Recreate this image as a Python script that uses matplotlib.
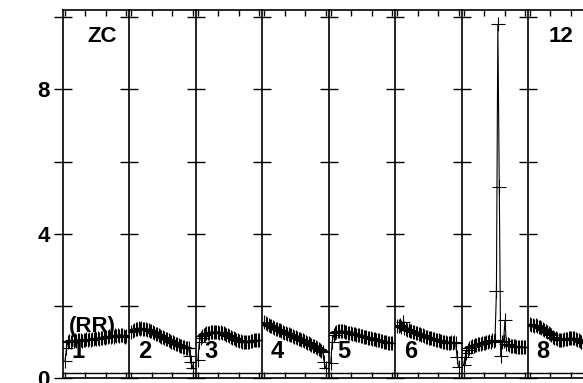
import numpy as np
import matplotlib
matplotlib.use("Agg")
import matplotlib.pyplot as plt

plt.rcParams['font.family'] = ['Liberation Sans', 'DejaVu Sans']

# ---- data ----
panel_labels = ['1', '2', '3', '4', '5', '6', '', '8']
p1 = [0.47, 0.83, 1.0, 1.03, 1.01, 1.04, 1.02, 1.05, 1.03, 1.06, 1.04, 1.05, 1.03, 1.06,
      1.05, 1.07, 1.05, 1.08, 1.06, 1.09, 1.07, 1.1, 1.08, 1.11, 1.09, 1.12, 1.1, 1.13,
      1.12, 1.15, 1.13, 1.16, 1.14, 1.17, 1.15, 1.18, 1.16, 1.19, 1.17, 1.2, 1.18, 1.17,
      1.15, 1.16]
p2 = [1.27, 1.3, 1.33, 1.35, 1.36, 1.38, 1.37, 1.38, 1.36, 1.37, 1.35, 1.34, 1.32, 1.31,
      1.29, 1.27, 1.25, 1.23, 1.21, 1.19, 1.17, 1.15, 1.13, 1.11, 1.09, 1.07, 1.05, 1.03,
      1.01, 0.99, 0.97, 0.95, 0.93, 0.92, 0.9, 0.88, 0.87, 0.85, 0.84, 0.83, 0.82, 0.62,
      0.44, 0.28]
p3 = [0.5, 1.0, 1.12, 1.17, 1.2, 1.22, 1.24, 1.25, 1.26, 1.27, 1.28, 1.27, 1.28, 1.27,
      1.28, 1.26, 1.27, 1.25, 1.24, 1.22, 1.2, 1.18, 1.16, 1.14, 1.12, 1.1, 1.08, 1.06,
      1.05, 1.03, 1.02, 1.01, 1.0, 0.99, 1.0, 1.0, 1.01, 1.02, 1.03, 1.04, 1.04, 1.05,
      1.04, 1.04]
p4 = [1.55, 1.52, 1.5, 1.47, 1.45, 1.43, 1.41, 1.39, 1.37, 1.35, 1.33, 1.32, 1.3, 1.28,
      1.26, 1.25, 1.23, 1.21, 1.2, 1.18, 1.16, 1.14, 1.13, 1.11, 1.09, 1.07, 1.06, 1.04,
      1.02, 1.0, 0.98, 0.96, 0.94, 0.92, 0.9, 0.88, 0.85, 0.83, 0.8, 0.78, 0.75, 0.72,
      0.44, 0.28]
p5 = [0.42, 1.0, 1.18, 1.24, 1.27, 1.29, 1.3, 1.31, 1.3, 1.29, 1.28, 1.27, 1.26, 1.25,
      1.24, 1.23, 1.22, 1.21, 1.2, 1.19, 1.18, 1.17, 1.16, 1.15, 1.14, 1.13, 1.12, 1.11,
      1.1, 1.09, 1.08, 1.07, 1.06, 1.05, 1.04, 1.03, 1.02, 1.01, 1.0, 0.99, 0.98, 0.98,
      0.97, 0.97]
p6 = [1.45, 1.43, 1.47, 1.4, 1.55, 1.38, 1.36, 1.34, 1.33, 1.31, 1.3, 1.28, 1.27, 1.25,
      1.24, 1.22, 1.21, 1.19, 1.18, 1.16, 1.15, 1.14, 1.12, 1.11, 1.1, 1.08, 1.07, 1.06,
      1.05, 1.04, 1.03, 1.02, 1.01, 1.0, 0.99, 0.98, 0.98, 0.97, 1.0, 0.97, 0.99, 0.96,
      0.58, 0.3]
p7 = [0.36, 0.58, 0.7, 0.78, 0.83, 0.86, 0.88, 0.9, 0.91, 0.92, 0.93, 0.94, 0.95, 0.96,
      0.97, 0.98, 0.99, 1.0, 1.02, 1.0, 1.04, 1.02, 1.06, 2.4, 9.8, 5.3, 0.6, 1.0,
      1.02, 1.6, 0.95, 0.93, 0.92, 0.9, 0.89, 0.88, 0.88, 0.87, 0.87, 0.86, 0.86, 0.86,
      0.85, 0.86]
p8 = [1.5, 1.48, 1.47, 1.45, 1.46, 1.44, 1.42, 1.4, 1.38, 1.36, 1.33, 1.3, 1.27, 1.24,
      1.21, 1.18, 1.15, 1.12, 1.1, 1.08, 1.06, 1.05, 1.05, 1.06, 1.07, 1.08, 1.09, 1.1,
      1.1, 1.11, 1.1, 1.1, 1.08, 1.06, 1.04, 1.02, 1.0, 0.97, 0.96, 0.96, 0.97, 0.98,
      0.99, 1.0]
panels = [p1, p2, p3, p4, p5, p6, p7, p8]

y_ticks = [0, 2, 4, 6, 8, 10]
y_tick_labels = ['0', '', '4', '', '8', '']
x_ticks = [0, 1, 2, 3]
top_text_first = 'ZC'
top_text_last = '12'
series_label = '(RR)'

# ---- layout ----
W, H = 583, 383
fig = plt.figure(figsize=(W / 100, H / 100), dpi=100)
left0, pw, top, bottom = 63, 66.43, 10, 378

for k, vals in enumerate(panels):
    ax = fig.add_axes([(left0 + k * pw) / W, (H - bottom) / H, pw / W, (bottom - top) / H])
    x = np.linspace(0, 3, len(vals))
    ax.plot(x, vals, color='black', lw=0.8, marker='+', ms=10, mew=0.8, clip_on=True)
    ax.set_xlim(-0.1, 3.15)
    ax.set_ylim(0, 10.2)
    ax.set_xticks(x_ticks)
    ax.set_xticklabels([])
    ax.tick_params(axis='x', which='both', direction='in', top=True, bottom=True,
                   length=4.5, width=1, color='black')
    ax.set_yticks(y_ticks)
    if k == 0:
        ax.set_yticklabels(y_tick_labels, fontsize=16, fontweight='bold')
    else:
        ax.set_yticklabels([])
    ax.tick_params(axis='y', which='both', direction='inout', left=True, right=False,
                   length=13, width=1, pad=3, color='black')
    for side in ['top', 'bottom', 'left']:
        ax.spines[side].set_linewidth(1.2)
        ax.spines[side].set_color('black')
    ax.spines['right'].set_visible(False)
    ax.axhline(0.14, color='black', lw=1)
    ax.text(0.23, 0.073, panel_labels[k], transform=ax.transAxes, fontsize=17,
            fontweight='bold', ha='center', va='center')
    if k == 0:
        ax.text(0.587, 0.929, top_text_first, transform=ax.transAxes, fontsize=16,
                fontweight='bold', ha='center', va='center')
        ax.text(0.437, 0.141, series_label, transform=ax.transAxes, fontsize=16,
                fontweight='bold', ha='center', va='center')
    if k == len(panels) - 1:
        ax.text(0.49, 0.929, top_text_last, transform=ax.transAxes, fontsize=16,
                fontweight='bold', ha='center', va='center')
    ax.patch.set_alpha(0)

fig.savefig('out.png', dpi=100)
